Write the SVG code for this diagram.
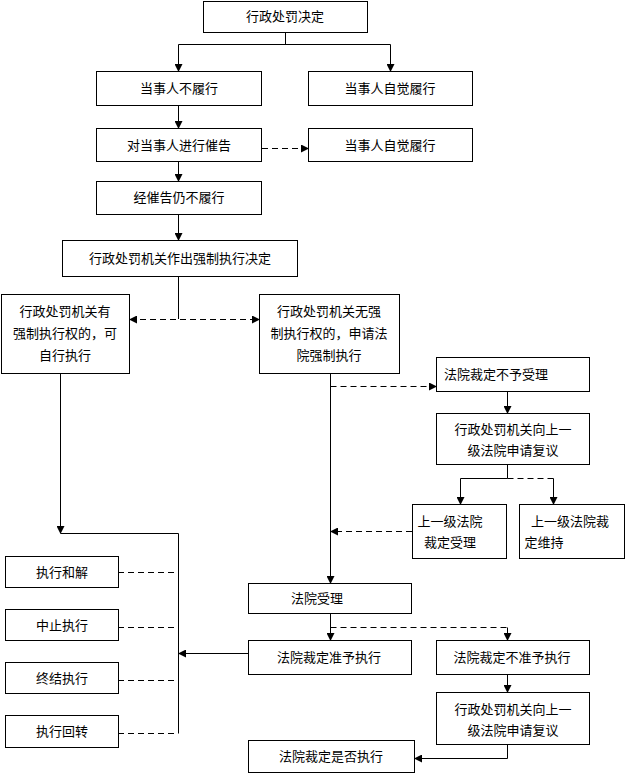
<svg xmlns="http://www.w3.org/2000/svg" width="625" height="774" viewBox="0 0 625 774">
<style>
rect{fill:#fff;stroke:#000;stroke-width:1}
text{font-family:"Noto Sans CJK SC","Liberation Sans",sans-serif;font-size:13px;fill:#000;text-anchor:middle}
.c path{fill:none;stroke:#000;stroke-width:1}
.d{stroke-dasharray:6,4}
</style>
<defs><marker id="a" markerWidth="8" markerHeight="8" refX="7" refY="4" orient="auto" markerUnits="userSpaceOnUse"><path d="M0,0L8,4L0,8z" fill="#000"/></marker>
<marker id="s" markerWidth="8" markerHeight="8" refX="1" refY="4" orient="auto" markerUnits="userSpaceOnUse"><path d="M8,0L0,4L8,8z" fill="#000"/></marker></defs>
<rect width="625" height="774" style="stroke:none"/>
<g id="n1"><rect x="203.5" y="1.5" width="164" height="31"/><text x="285" y="21">行政处罚决定</text></g>
<g id="n2"><rect x="96.5" y="71.5" width="165" height="34"/><text x="179" y="93">当事人不履行</text></g>
<g id="n3"><rect x="308.5" y="71.5" width="164" height="34"/><text x="390" y="93">当事人自觉履行</text></g>
<g id="n4"><rect x="96.5" y="128.5" width="165" height="33"/><text x="179" y="150">对当事人进行催告</text></g>
<g id="n5"><rect x="308.5" y="128.5" width="164" height="33"/><text x="390" y="150">当事人自觉履行</text></g>
<g id="n6"><rect x="96.5" y="181.5" width="165" height="33"/><text x="179" y="202">经催告仍不履行</text></g>
<g id="n7"><rect x="62.5" y="240.5" width="235" height="36"/><text x="180" y="263">行政处罚机关作出强制执行决定</text></g>
<g id="n8"><rect x="1.5" y="294.5" width="128" height="79"/><text x="65" y="316">行政处罚机关有</text><text x="65" y="338">强制执行权的，可</text><text x="65" y="360">自行执行</text></g>
<g id="n9"><rect x="259.5" y="294.5" width="140" height="79"/><text x="329" y="316">行政处罚机关无强</text><text x="329" y="338">制执行权的，申请法</text><text x="329" y="360">院强制执行</text></g>
<g id="n10"><rect x="436.5" y="357.5" width="153" height="34"/><text x="496" y="379">法院裁定不予受理</text></g>
<g id="n11"><rect x="436.5" y="413.5" width="153" height="51"/><text x="513" y="434">行政处罚机关向上一</text><text x="513" y="455">级法院申请复议</text></g>
<g id="n12"><rect x="412.5" y="504.5" width="94" height="54"/><text x="450" y="526">上一级法院</text><text x="450" y="547">裁定受理</text></g>
<g id="n13"><rect x="519.5" y="504.5" width="105" height="54"/><text x="570" y="526">上一级法院裁</text><text x="544" y="547">定维持</text></g>
<g id="n14"><rect x="248.5" y="583.5" width="163" height="30"/><text x="317" y="603">法院受理</text></g>
<g id="n15"><rect x="248.5" y="640.5" width="163" height="34"/><text x="329" y="662">法院裁定准予执行</text></g>
<g id="n16"><rect x="436.5" y="640.5" width="153" height="34"/><text x="512" y="662">法院裁定不准予执行</text></g>
<g id="n17"><rect x="436.5" y="692.5" width="153" height="52"/><text x="513" y="714">行政处罚机关向上一</text><text x="513" y="735">级法院申请复议</text></g>
<g id="n18"><rect x="248.5" y="740.5" width="166" height="32"/><text x="331" y="761">法院裁定是否执行</text></g>
<g id="n19"><rect x="5.5" y="556.5" width="113" height="31"/><text x="62" y="577">执行和解</text></g>
<g id="n20"><rect x="5.5" y="609.5" width="113" height="31"/><text x="62" y="630">中止执行</text></g>
<g id="n21"><rect x="5.5" y="662.5" width="113" height="31"/><text x="62" y="683">终结执行</text></g>
<g id="n22"><rect x="5.5" y="715.5" width="113" height="32"/><text x="62" y="736">执行回转</text></g>
<g class="c">
<path d="M285.5,32V44.5M178.5,44.5H390.5"/>
<path d="M178.5,44.5V71" marker-end="url(#a)"/>
<path d="M390.5,44.5V71" marker-end="url(#a)"/>
<path d="M178.5,105V128" marker-end="url(#a)"/>
<path class="d" d="M262,148.5H308" marker-end="url(#a)"/>
<path d="M178.5,161V181" marker-end="url(#a)"/>
<path d="M178.5,214V240" marker-end="url(#a)"/>
<path d="M178.5,276V319"/>
<path class="d" d="M130,319.5H259" marker-start="url(#s)" marker-end="url(#a)"/>
<path class="d" d="M330.5,386.5H436" marker-end="url(#a)"/>
<path d="M507.5,391V413" marker-end="url(#a)"/>
<path d="M507.5,464V478.5H460.5"/>
<path d="M460.5,478.5V504" marker-end="url(#a)"/>
<path class="d" d="M507.5,478.5H553.5"/>
<path d="M553.5,478.5V504" marker-end="url(#a)"/>
<path class="d" d="M412,531.5H331" marker-end="url(#a)"/>
<path d="M330.5,373V583" marker-end="url(#a)"/>
<path d="M60.5,373V533" marker-end="url(#a)"/>
<path d="M60.5,533.5H178.5V733.5"/>
<path class="d" d="M118,572.5H178M118,627.5H178M118,680.5H178M118,733.5H178"/>
<path d="M248,653.5H179" marker-end="url(#a)"/>
<path d="M330.5,613V640" marker-end="url(#a)"/>
<path class="d" d="M330.5,627.5H507.5"/>
<path d="M507.5,627.5V640" marker-end="url(#a)"/>
<path d="M507.5,674V692" marker-end="url(#a)"/>
<path d="M507.5,744V758.5H415" marker-end="url(#a)"/>
</g>
</svg>
